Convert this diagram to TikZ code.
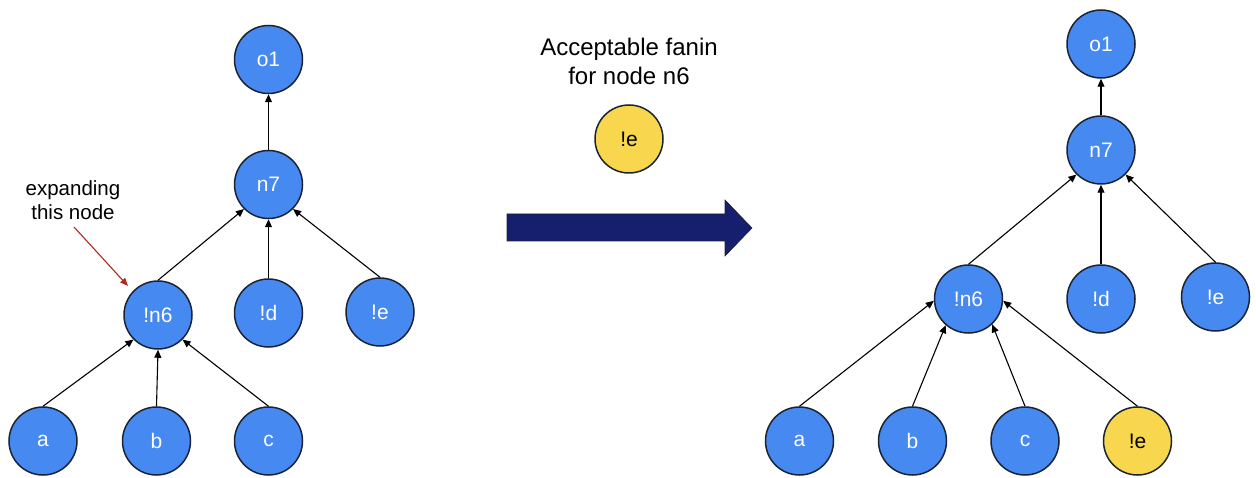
\documentclass[tikz,border=0pt]{standalone}
\usepackage{fontspec}
\setmainfont{Liberation Sans}
\usetikzlibrary{arrows.meta}
\definecolor{nodeblue}{HTML}{4589F1}
\definecolor{nodeyellow}{HTML}{F8D74E}
\definecolor{rim}{HTML}{1A2433}
\definecolor{navy}{HTML}{161F6E}
\definecolor{noteRed}{HTML}{B5271E}
\tikzset{
  gate/.style={circle, draw=rim, line width=1.5pt, fill=nodeblue, text=white,
    minimum size=68pt, inner sep=0pt, font=\fontsize{21}{25}\selectfont},
  cand/.style={gate, fill=nodeyellow, text=black},
  edge/.style={line width=1.1pt, draw=black, -{Triangle[length=8pt,width=7pt]}},
  note/.style={align=center, font=\fontsize{20.5}{24.5}\selectfont},
  title/.style={align=center, font=\fontsize{24}{29}\selectfont}
}
\begin{document}
\begin{tikzpicture}[x=1pt, y=-1pt]
\useasboundingbox (0,0) rectangle (1256,478);

% ---- tree before expansion ----
\node[gate] (Lo1) at (268.5,59.5) {o1};
\node[gate] (Ln7) at (268.5,184.5) {n7};
\node[gate] (Ln6) at (158,315) {!n6};
\node[gate] (Ld)  at (268.5,313) {!d};
\node[gate] (Le)  at (380,312) {!e};
\node[gate] (La)  at (43,441) {a};
\node[gate] (Lb)  at (156.5,441) {b};
\node[gate] (Lc)  at (268.5,441) {c};

\draw[edge] (Ln7.north) -- (Lo1.south);
\draw[edge] (Ln6.north) -- (Ln7.south west);
\draw[edge] (Ld.north)  -- (Ln7.south);
\draw[edge] (Le.north)  -- (Ln7.south east);
\draw[edge] (La.north)  -- (Ln6.south west);
\draw[edge] (Lb.north)  -- (Ln6.south);
\draw[edge] (Lc.north)  -- (Ln6.south east);

% annotation
\node[note] (lbl) at (73,200) {expanding\\this node};
\coordinate (lblEnd) at (74,227);
\coordinate (lblTip) at (128,286);
\draw[line width=1.1pt, noteRed, -{Triangle[length=8pt,width=6.5pt]}] (lblEnd) -- (lblTip);

% ---- candidate fanin ----
\node[title] (ttl) at (629,61) {Acceptable fanin\\for node n6};
\node[cand] (cand) at (629,139) {!e};

% transformation arrow
\filldraw[fill=navy, draw=rim, line width=0.6pt] (507,214) -- (725,214) -- (725,200) -- (752,228)
  -- (725,256) -- (725,241) -- (507,241) -- cycle;

% ---- tree after expansion ----
\node[gate] (Ro1) at (1101,44) {o1};
\node[gate] (Rn7) at (1101,150) {n7};
\node[gate] (Rn6) at (968.5,299) {!n6};
\node[gate] (Rd)  at (1101,299) {!d};
\node[gate] (Re)  at (1215.5,297) {!e};
\node[gate] (Ra)  at (799.5,441) {a};
\node[gate] (Rb)  at (912.5,441) {b};
\node[gate] (Rc)  at (1025,441) {c};
\node[cand] (Rx)  at (1137.5,441) {!e};

\draw[edge] (Rn7.north) -- (Ro1.south);
\draw[edge] (Rn6.north) -- (Rn7.south west);
\draw[edge] (Rd.north)  -- (Rn7.south);
\draw[edge] (Re.north)  -- (Rn7.south east);
\draw[edge] (Ra.north)  -- (Rn6.183);
\draw[edge] (Rb.north)  -- (Rn6.229);
\draw[edge] (Rc.north)  -- (Rn6.313);
\draw[edge] (Rx.north)  -- (Rn6.357);
\end{tikzpicture}
\end{document}
